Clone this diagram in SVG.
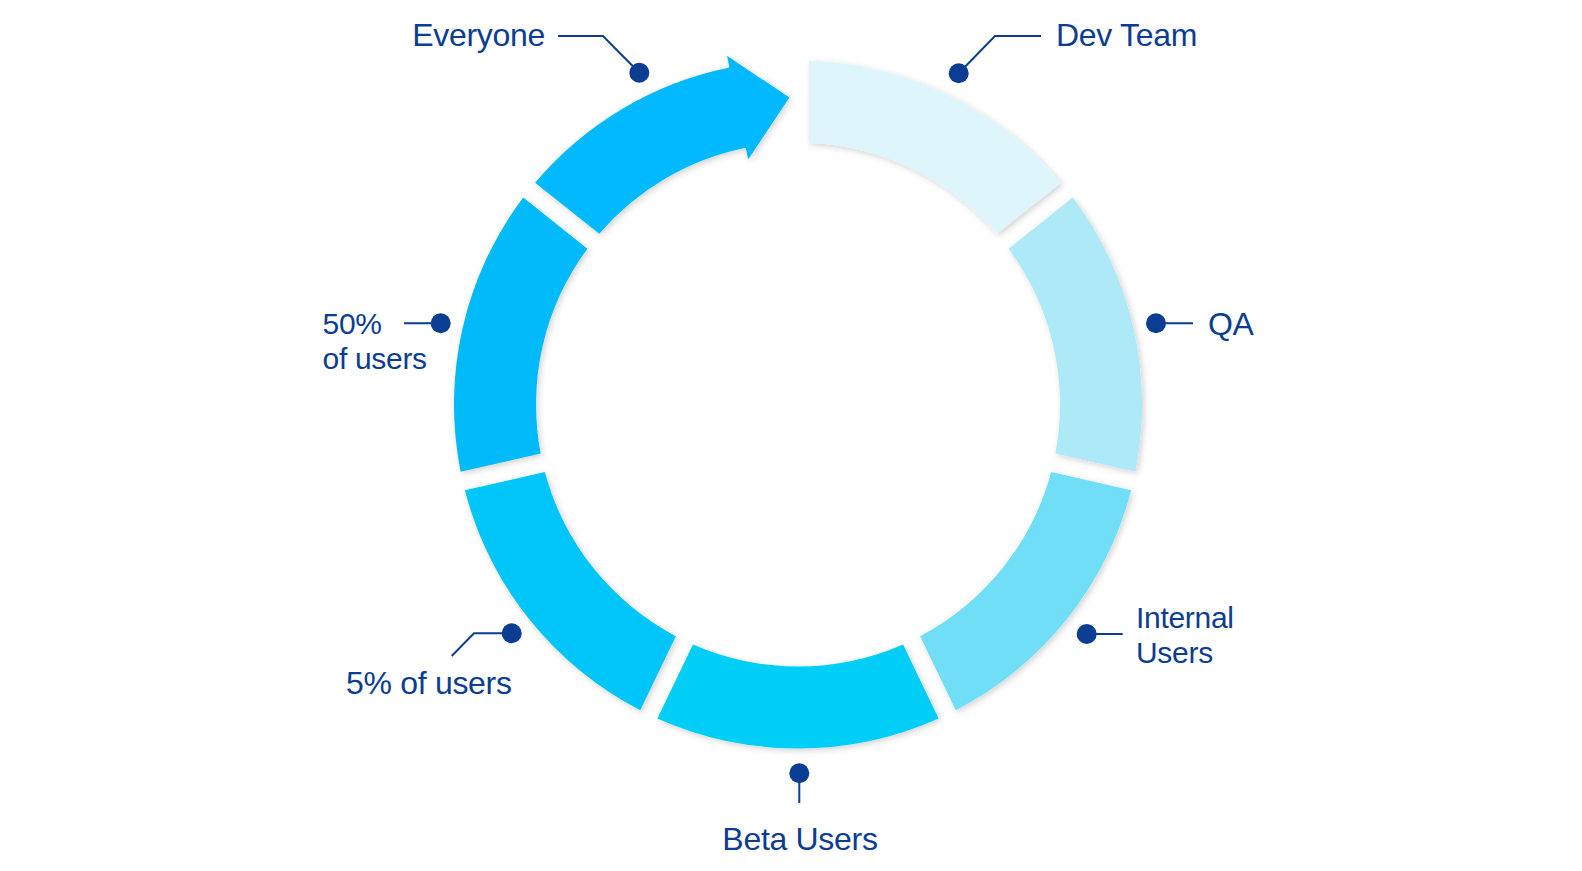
<svg xmlns="http://www.w3.org/2000/svg" width="1582" height="871" viewBox="0 0 1582 871">
  <defs>
    <filter id="sh" x="-20%" y="-20%" width="140%" height="140%">
      <feDropShadow dx="2" dy="2" stdDeviation="3" flood-color="#000" flood-opacity="0.18"/>
    </filter>
    <style>
      .seg { filter: url(#sh); }
      .lbl { font-family: "Liberation Sans", Arial, sans-serif; font-size: 32px; fill: #0B3D92; letter-spacing: -0.3px; }
      .lbl2 { font-size: 30px; }
      .lead { stroke: #0B3D92; stroke-width: 2; fill: none; }
      .dot { fill: #0B3D92; }
    </style>
  </defs>
  <rect width="1582" height="871" fill="#ffffff"/>

  <g id="connectors">
    <path class="lead" d="M558,36 H603 L639.3,72.7"/>
    <path class="lead" d="M958.7,73.3 L995,36 H1041"/>
    <path class="lead" d="M1156,323.3 H1193"/>
    <path class="lead" d="M1086.7,634 H1122.7"/>
    <path class="lead" d="M799.3,773.3 V803"/>
    <path class="lead" d="M511.7,633.3 H474 L451.7,656"/>
    <path class="lead" d="M404,323.3 H440.7"/>
  </g>

  <g id="dev-team">
    <path class="seg" fill="#DDF5FB" d="M809,60.68 A344,344 0 0 1 1060.92,182.67 L996.78,233.83 A262,262 0 0 0 809,142.73 Z"/>
    <circle class="dot" cx="958.7" cy="73.3" r="10"/>
    <text class="lbl" x="1056" y="46">Dev Team</text>
  </g>

  <g id="qa">
    <path class="seg" fill="#AEE9F8" d="M1072.77,197.53 A344,344 0 0 1 1135.37,471.76 L1055.38,453.5 A262,262 0 0 0 1008.63,248.68 Z"/>
    <circle class="dot" cx="1156" cy="323.3" r="10"/>
    <text class="lbl" x="1208" y="335">QA</text>
  </g>

  <g id="internal-users">
    <path class="seg" fill="#70DEF7" d="M1131.13,490.28 A344,344 0 0 1 955.76,710.2 L920.16,636.28 A262,262 0 0 0 1051.15,472.03 Z"/>
    <circle class="dot" cx="1086.7" cy="634" r="10"/>
    <text class="lbl lbl2" x="1136" y="628">Internal</text>
    <text class="lbl lbl2" x="1136" y="663">Users</text>
  </g>

  <g id="beta-users">
    <path class="seg" fill="#02CEF6" d="M938.64,718.44 A344,344 0 0 1 657.36,718.44 L692.95,644.53 A262,262 0 0 0 903.05,644.53 Z"/>
    <circle class="dot" cx="799.3" cy="773.3" r="10"/>
    <text class="lbl" x="800" y="850" text-anchor="middle">Beta Users</text>
  </g>

  <g id="five-percent">
    <path class="seg" fill="#00C5F8" d="M640.24,710.2 A344,344 0 0 1 464.87,490.28 L544.85,472.03 A262,262 0 0 0 675.84,636.28 Z"/>
    <circle class="dot" cx="511.7" cy="633.3" r="10"/>
    <text class="lbl" x="346" y="694">5% of users</text>
  </g>

  <g id="fifty-percent">
    <path class="seg" fill="#00BAF9" d="M460.63,471.76 A344,344 0 0 1 523.23,197.53 L587.37,248.68 A262,262 0 0 0 540.62,453.5 Z"/>
    <circle class="dot" cx="440.7" cy="323.3" r="10"/>
    <text class="lbl lbl2" x="322.5" y="334">50%</text>
    <text class="lbl lbl2" x="322.5" y="369">of users</text>
  </g>

  <g id="everyone">
    <path class="seg" fill="#00B9FE" d="M535.08,182.67 A344,344 0 0 1 729.42,67.41 L727.02,55.65 L789.43,97.62 L748.16,159.52 L745.76,147.76 A262,262 0 0 0 599.22,233.83 Z"/>
    <circle class="dot" cx="639.3" cy="72.7" r="10"/>
    <text class="lbl" x="545" y="46" text-anchor="end">Everyone</text>
  </g>
</svg>
